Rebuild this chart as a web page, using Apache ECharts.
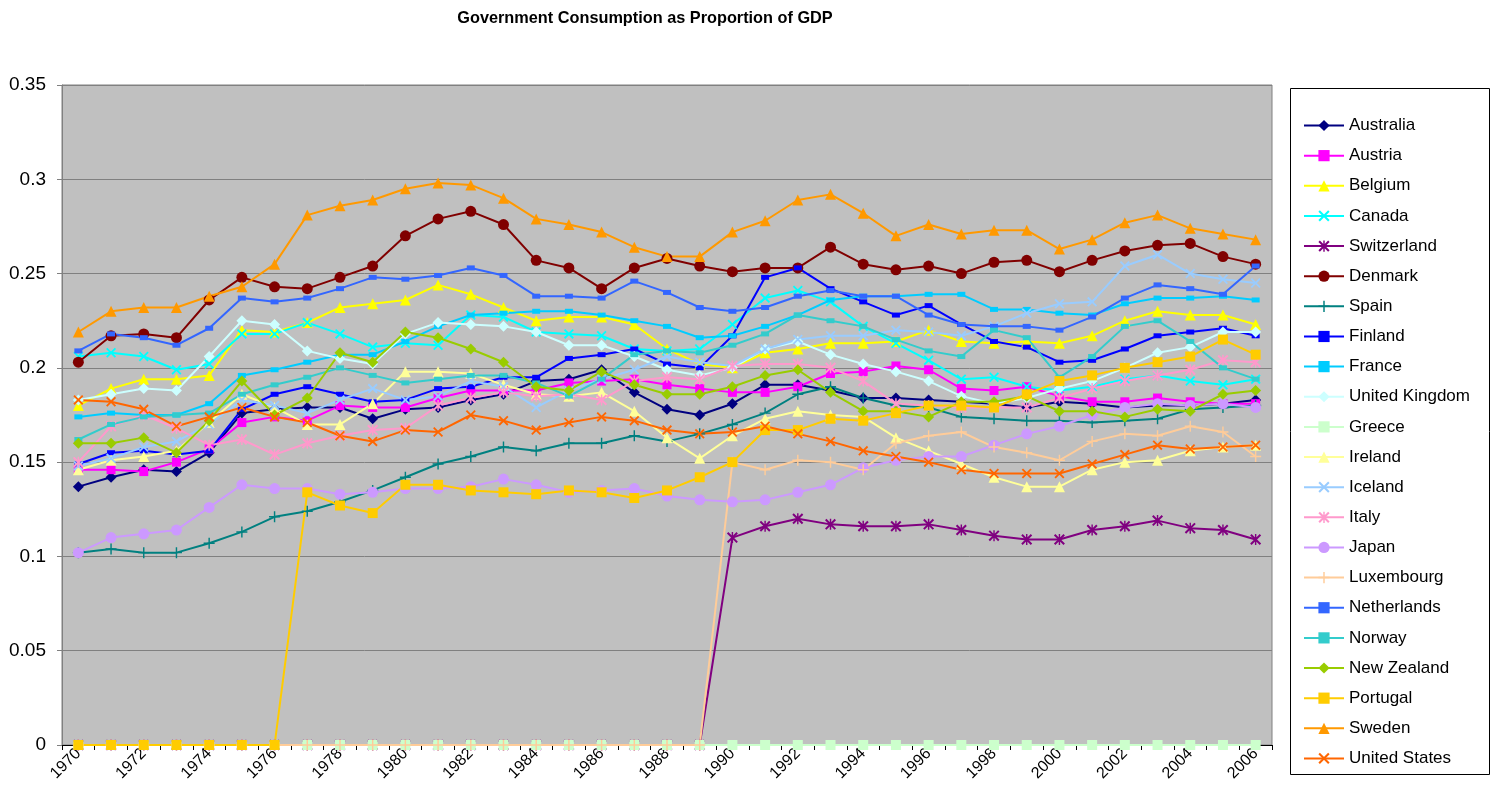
<!DOCTYPE html>
<html>
<head>
<meta charset="utf-8">
<title>Government Consumption as Proportion of GDP</title>
<script src="https://cdn.jsdelivr.net/npm/echarts@6/dist/echarts.min.js"></script>
<style>
  html, body { margin: 0; padding: 0; background: #fff; }
  #chart { width: 1494px; height: 805px; }
</style>
</head>
<body>
<div id="chart"></div>
<script>
// years on the x axis
const years = []
for (let y = 1970; y <= 2006; y++) years.push(String(y))

const yTicks = [0, 0.05, 0.1, 0.15, 0.2, 0.25, 0.3, 0.35]

// one array per country, 1970..2006
const australia = [0.137, 0.142, 0.146, 0.145, 0.155, 0.176, 0.178, 0.179, 0.179, 0.173, 0.178, 0.179, 0.183, 0.186, 0.193, 0.194, 0.199, 0.187, 0.178, 0.175, 0.181, 0.191, 0.191, 0.188, 0.184, 0.184, 0.183, 0.182, 0.181, 0.179, 0.182, 0.181, 0.179, 0.180, 0.180, 0.181, 0.183]
const austria = [0.146, 0.146, 0.145, 0.150, 0.157, 0.171, 0.174, 0.172, 0.180, 0.179, 0.179, 0.184, 0.188, 0.188, 0.188, 0.192, 0.193, 0.194, 0.191, 0.189, 0.187, 0.187, 0.190, 0.197, 0.198, 0.201, 0.199, 0.189, 0.188, 0.190, 0.185, 0.182, 0.182, 0.184, 0.182, 0.181, 0.181]
const belgium = [0.180, 0.189, 0.194, 0.194, 0.196, 0.220, 0.219, 0.224, 0.232, 0.234, 0.236, 0.244, 0.239, 0.232, 0.225, 0.227, 0.227, 0.223, 0.210, 0.202, 0.200, 0.208, 0.210, 0.213, 0.213, 0.214, 0.220, 0.214, 0.213, 0.214, 0.213, 0.217, 0.225, 0.230, 0.228, 0.228, 0.223]
const canada = [0.206, 0.208, 0.206, 0.199, 0.202, 0.218, 0.218, 0.224, 0.218, 0.211, 0.213, 0.212, 0.228, 0.227, 0.219, 0.218, 0.217, 0.210, 0.209, 0.210, 0.223, 0.237, 0.241, 0.235, 0.222, 0.213, 0.204, 0.194, 0.195, 0.190, 0.188, 0.190, 0.194, 0.196, 0.193, 0.191, 0.194]
const switzerland = [0, 0, 0, 0, 0, 0, 0, 0, 0, 0, 0, 0, 0, 0, 0, 0, 0, 0, 0, 0, 0.110, 0.116, 0.120, 0.117, 0.116, 0.116, 0.117, 0.114, 0.111, 0.109, 0.109, 0.114, 0.116, 0.119, 0.115, 0.114, 0.109]
const denmark = [0.203, 0.217, 0.218, 0.216, 0.236, 0.248, 0.243, 0.242, 0.248, 0.254, 0.270, 0.279, 0.283, 0.276, 0.257, 0.253, 0.242, 0.253, 0.258, 0.254, 0.251, 0.253, 0.253, 0.264, 0.255, 0.252, 0.254, 0.250, 0.256, 0.257, 0.251, 0.257, 0.262, 0.265, 0.266, 0.259, 0.255]
const spain = [0.102, 0.104, 0.102, 0.102, 0.107, 0.113, 0.121, 0.124, 0.129, 0.135, 0.142, 0.149, 0.153, 0.158, 0.156, 0.160, 0.160, 0.164, 0.161, 0.165, 0.170, 0.176, 0.186, 0.190, 0.184, 0.180, 0.179, 0.174, 0.173, 0.172, 0.172, 0.171, 0.172, 0.173, 0.178, 0.179, 0.180]
const finland = [0.149, 0.155, 0.156, 0.154, 0.156, 0.178, 0.186, 0.190, 0.186, 0.182, 0.183, 0.189, 0.190, 0.195, 0.195, 0.205, 0.207, 0.210, 0.202, 0.200, 0.217, 0.248, 0.253, 0.242, 0.235, 0.228, 0.233, 0.223, 0.214, 0.211, 0.203, 0.204, 0.210, 0.217, 0.219, 0.221, 0.217]
const france = [0.174, 0.176, 0.175, 0.175, 0.181, 0.196, 0.199, 0.203, 0.207, 0.207, 0.214, 0.222, 0.228, 0.229, 0.230, 0.230, 0.228, 0.225, 0.222, 0.216, 0.217, 0.222, 0.228, 0.236, 0.238, 0.238, 0.239, 0.239, 0.231, 0.231, 0.229, 0.228, 0.234, 0.237, 0.237, 0.238, 0.236]
const unitedKingdom = [0.183, 0.186, 0.189, 0.188, 0.206, 0.225, 0.223, 0.209, 0.205, 0.202, 0.218, 0.224, 0.223, 0.222, 0.219, 0.212, 0.212, 0.206, 0.199, 0.196, 0.200, 0.210, 0.214, 0.207, 0.202, 0.198, 0.193, 0.185, 0.181, 0.184, 0.189, 0.193, 0.200, 0.208, 0.211, 0.219, 0.219]
const greece = [0, 0, 0, 0, 0, 0, 0, 0, 0, 0, 0, 0, 0, 0, 0, 0, 0, 0, 0, 0, 0, 0, 0, 0, 0, 0, 0, 0, 0, 0, 0, 0, 0, 0, 0, 0, 0]
const ireland = [0.146, 0.151, 0.153, 0.156, 0.171, 0.186, 0.179, 0.170, 0.170, 0.181, 0.198, 0.198, 0.197, 0.191, 0.186, 0.185, 0.187, 0.177, 0.163, 0.152, 0.164, 0.173, 0.177, 0.175, 0.174, 0.163, 0.156, 0.149, 0.142, 0.137, 0.137, 0.146, 0.150, 0.151, 0.156, 0.158, 0.159]
const iceland = [0.148, 0.152, 0.158, 0.161, 0.170, 0.183, 0.180, 0.176, 0.183, 0.189, 0.183, 0.185, 0.193, 0.190, 0.179, 0.188, 0.194, 0.199, 0.206, 0.203, 0.201, 0.210, 0.215, 0.217, 0.217, 0.220, 0.219, 0.217, 0.222, 0.229, 0.234, 0.235, 0.254, 0.260, 0.250, 0.247, 0.245]
const italy = [0.150, 0.169, 0.175, 0.168, 0.159, 0.162, 0.154, 0.160, 0.164, 0.167, 0.168, 0.180, 0.184, 0.187, 0.185, 0.186, 0.183, 0.193, 0.195, 0.194, 0.201, 0.202, 0.202, 0.200, 0.193, 0.181, 0.180, 0.179, 0.179, 0.179, 0.184, 0.189, 0.193, 0.196, 0.199, 0.204, 0.203]
const japan = [0.102, 0.110, 0.112, 0.114, 0.126, 0.138, 0.136, 0.136, 0.133, 0.134, 0.136, 0.136, 0.137, 0.141, 0.138, 0.134, 0.135, 0.136, 0.132, 0.130, 0.129, 0.130, 0.134, 0.138, 0.147, 0.151, 0.153, 0.153, 0.159, 0.165, 0.169, 0.175, 0.179, 0.181, 0.180, 0.181, 0.179]
const luxembourg = [0, 0, 0, 0, 0, 0, 0, 0, 0, 0, 0, 0, 0, 0, 0, 0, 0, 0, 0, 0, 0.150, 0.146, 0.151, 0.150, 0.146, 0.160, 0.164, 0.166, 0.158, 0.155, 0.151, 0.161, 0.165, 0.164, 0.169, 0.166, 0.153]
const netherlands = [0.209, 0.218, 0.216, 0.212, 0.221, 0.237, 0.235, 0.237, 0.242, 0.248, 0.247, 0.249, 0.253, 0.249, 0.238, 0.238, 0.237, 0.246, 0.240, 0.232, 0.230, 0.232, 0.238, 0.241, 0.238, 0.238, 0.228, 0.223, 0.222, 0.222, 0.220, 0.227, 0.237, 0.244, 0.242, 0.239, 0.254]
const norway = [0.162, 0.170, 0.174, 0.175, 0.176, 0.186, 0.191, 0.195, 0.200, 0.196, 0.192, 0.194, 0.196, 0.196, 0.192, 0.185, 0.194, 0.207, 0.209, 0.208, 0.212, 0.218, 0.228, 0.225, 0.222, 0.215, 0.209, 0.206, 0.220, 0.216, 0.195, 0.206, 0.222, 0.225, 0.214, 0.200, 0.194]
const newZealand = [0.160, 0.160, 0.163, 0.155, 0.172, 0.193, 0.175, 0.184, 0.208, 0.203, 0.219, 0.216, 0.210, 0.203, 0.190, 0.188, 0.198, 0.191, 0.186, 0.186, 0.190, 0.196, 0.199, 0.187, 0.177, 0.177, 0.174, 0.182, 0.182, 0.185, 0.177, 0.177, 0.174, 0.178, 0.177, 0.186, 0.188]
const portugal = [0, 0, 0, 0, 0, 0, 0, 0.134, 0.127, 0.123, 0.138, 0.138, 0.135, 0.134, 0.133, 0.135, 0.134, 0.131, 0.135, 0.142, 0.150, 0.167, 0.167, 0.173, 0.172, 0.176, 0.180, 0.180, 0.179, 0.186, 0.193, 0.196, 0.200, 0.203, 0.206, 0.215, 0.207]
const sweden = [0.219, 0.230, 0.232, 0.232, 0.238, 0.243, 0.255, 0.281, 0.286, 0.289, 0.295, 0.298, 0.297, 0.290, 0.279, 0.276, 0.272, 0.264, 0.259, 0.259, 0.272, 0.278, 0.289, 0.292, 0.282, 0.270, 0.276, 0.271, 0.273, 0.273, 0.263, 0.268, 0.277, 0.281, 0.274, 0.271, 0.268]
const unitedStates = [0.183, 0.182, 0.178, 0.169, 0.174, 0.179, 0.174, 0.171, 0.164, 0.161, 0.167, 0.166, 0.175, 0.172, 0.167, 0.171, 0.174, 0.172, 0.167, 0.165, 0.166, 0.169, 0.165, 0.161, 0.156, 0.153, 0.150, 0.146, 0.144, 0.144, 0.144, 0.149, 0.154, 0.159, 0.157, 0.158, 0.159]

// excel style markers that echarts does not have
const X_MARK = 'path://M0,1.3 L1.3,0 L10,8.7 L8.7,10 Z M8.7,0 L10,1.3 L1.3,10 L0,8.7 Z'
const STAR_MARK = 'path://M0,1.3 L1.3,0 L10,8.7 L8.7,10 Z M8.7,0 L10,1.3 L1.3,10 L0,8.7 Z M4.35,0 L5.65,0 L5.65,10 L4.35,10 Z'
const PLUS_MARK = 'path://M4.35,0 L5.65,0 L5.65,4.35 L10,4.35 L10,5.65 L5.65,5.65 L5.65,10 L4.35,10 L4.35,5.65 L0,5.65 L0,4.35 L4.35,4.35 Z'

// name, values, colour, marker, marker size
const countries = [
  ['Australia', australia, '#000080', 'diamond', 11],
  ['Austria', austria, '#FF00FF', 'rect', 9],
  ['Belgium', belgium, '#FFFF00', 'triangle', 11],
  ['Canada', canada, '#00FFFF', X_MARK, 10],
  ['Switzerland', switzerland, '#800080', STAR_MARK, 11],
  ['Denmark', denmark, '#800000', 'circle', 11],
  ['Spain', spain, '#008080', PLUS_MARK, 11],
  ['Finland', finland, '#0000FF', 'rect', [8, 5]],
  ['France', france, '#00CCFF', 'rect', [8, 5]],
  ['United Kingdom', unitedKingdom, '#CCFFFF', 'diamond', 11],
  ['Greece', greece, '#CCFFCC', 'rect', 10],
  ['Ireland', ireland, '#FFFF99', 'triangle', 11],
  ['Iceland', iceland, '#99CCFF', X_MARK, 10],
  ['Italy', italy, '#FF99CC', STAR_MARK, 11],
  ['Japan', japan, '#CC99FF', 'circle', 11],
  ['Luxembourg', luxembourg, '#FFCC99', PLUS_MARK, 11],
  ['Netherlands', netherlands, '#3366FF', 'rect', [8, 5]],
  ['Norway', norway, '#33CCCC', 'rect', [8, 5]],
  ['New Zealand', newZealand, '#99CC00', 'diamond', 11],
  ['Portugal', portugal, '#FFCC00', 'rect', 10],
  ['Sweden', sweden, '#FF9900', 'triangle', 11],
  ['United States', unitedStates, '#FF6600', X_MARK, 10]
]

const FONT = 'Arial, "Liberation Sans", sans-serif'

const chart = echarts.init(document.getElementById('chart'), null, { renderer: 'canvas' })

chart.setOption({
  animation: false,
  backgroundColor: '#fff',
  color: countries.map(c => c[2]),

  title: {
    text: 'Government Consumption as Proportion of GDP',
    left: 640,
    top: 6,
    textAlign: 'center',
    textStyle: { fontFamily: FONT, fontSize: 16.3, fontWeight: 'bold', color: '#000' }
  },

  // legend frame
  graphic: [{
    type: 'rect',
    shape: { x: 1290.5, y: 88.5, width: 199, height: 686 },
    style: { fill: '#fff', stroke: '#000', lineWidth: 1 },
    z: 0
  }],

  legend: {
    orient: 'vertical',
    left: 1303,
    top: 117,
    padding: 0,
    itemWidth: 40,
    itemHeight: 14,
    itemGap: 13.14,
    textStyle: { fontFamily: FONT, fontSize: 17, color: '#000' },
    data: countries.map(c => c[0])
  },

  grid: {
    left: 62,
    right: 222,
    top: 85,
    bottom: 60,
    show: true,
    backgroundColor: '#C0C0C0',
    borderColor: '#808080',
    borderWidth: 1
  },

  xAxis: {
    type: 'category',
    data: years,
    boundaryGap: true,
    axisLine: { lineStyle: { color: '#000', width: 1 } },
    axisTick: { show: true, interval: 0, length: 5, lineStyle: { color: '#000' } },
    axisLabel: {
      interval: 1,
      rotate: 45,
      margin: 6,
      fontFamily: FONT,
      fontSize: 16,
      color: '#000'
    },
    splitLine: { show: false }
  },

  yAxis: {
    type: 'value',
    min: yTicks[0],
    max: yTicks[yTicks.length - 1],
    interval: yTicks[1] - yTicks[0],
    axisLine: { show: true, lineStyle: { color: '#808080' } },
    axisTick: { show: true, length: 5, lineStyle: { color: '#808080' } },
    axisLabel: {
      margin: 16,
      fontFamily: FONT,
      fontSize: 19,
      color: '#000',
      formatter: v => String(+v.toFixed(2))
    },
    splitLine: { show: true, lineStyle: { color: '#808080', width: 1 } }
  },

  series: countries.map(([name, values, colour, marker, size]) => ({
    name: name,
    type: 'line',
    data: values,
    symbol: marker,
    symbolSize: size,
    showAllSymbol: true,
    lineStyle: { color: colour, width: 2 },
    itemStyle: { color: colour },
    emphasis: { disabled: true }
  }))
})
</script>
</body>
</html>
